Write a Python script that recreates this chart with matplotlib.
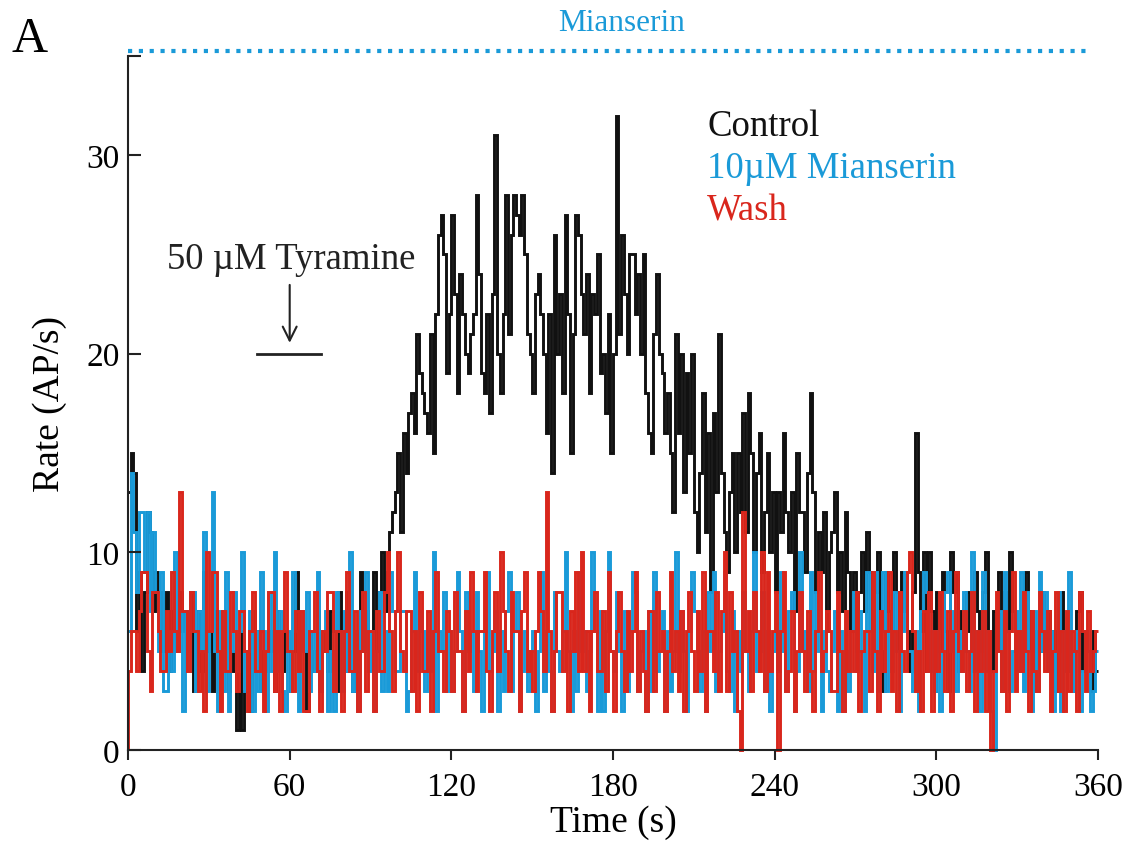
import numpy as np
import matplotlib
matplotlib.use("Agg")
import matplotlib.pyplot as plt

# firing rate, 1 s bins, 0-360 s (AP/s)
control_rate = [
    13, 15, 14, 6, 9, 4, 8, 12, 11, 7,
    9, 6, 8, 5, 8, 4, 7, 5, 6, 8,
    6, 7, 5, 8, 3, 6, 7, 4, 9, 5,
    6, 3, 7, 5, 4, 6, 7, 3, 5, 4,
    1, 6, 1, 3, 5, 2, 7, 4, 6, 3,
    5, 4, 6, 5, 3, 7, 5, 4, 6, 5,
    3, 5, 9, 4, 6, 5, 2, 6, 4, 5,
    7, 3, 5, 6, 4, 7, 6, 3, 8, 6,
    4, 8, 5, 3, 6, 4, 9, 5, 7, 6,
    6, 9, 5, 8, 10, 7, 9, 11, 12, 13,
    15, 11, 16, 14, 17, 18, 16, 21, 19, 18,
    17, 16, 21, 15, 22, 26, 27, 25, 19, 22,
    27, 23, 18, 24, 22, 20, 19, 21, 22, 28,
    24, 19, 18, 22, 17, 23, 31, 20, 18, 22,
    28, 21, 26, 28, 27, 26, 28, 25, 21, 20,
    18, 23, 24, 22, 20, 16, 22, 14, 26, 20,
    23, 18, 27, 22, 15, 21, 27, 26, 23, 21,
    24, 18, 23, 22, 25, 19, 20, 17, 22, 15,
    20, 32, 21, 26, 23, 20, 25, 25, 22, 24,
    20, 25, 18, 16, 15, 21, 24, 20, 19, 16,
    18, 15, 12, 21, 16, 20, 13, 19, 15, 20,
    12, 10, 14, 18, 11, 16, 8, 17, 13, 21,
    14, 11, 9, 13, 15, 10, 15, 12, 17, 11,
    18, 15, 10, 14, 16, 9, 12, 15, 10, 13,
    8, 13, 11, 16, 12, 10, 13, 7, 15, 12,
    12, 9, 14, 18, 13, 8, 11, 9, 12, 6,
    10, 11, 13, 8, 10, 7, 12, 9, 6, 9,
    5, 8, 10, 7, 11, 9, 6, 8, 10, 5,
    3, 9, 7, 6, 10, 8, 5, 9, 7, 6,
    4, 8, 16, 9, 6, 10, 4, 10, 7, 3,
    8, 5, 9, 6, 3, 10, 8, 9, 4, 7,
    5, 8, 6, 4, 9, 7, 5, 8, 10, 6,
    4, 7, 5, 9, 3, 8, 6, 10, 7, 5,
    6, 4, 8, 9, 5, 7, 3, 6, 5, 8,
    5, 7, 4, 6, 3, 5, 8, 6, 4, 6,
    3, 5, 7, 8, 4, 6, 5, 3, 6, 4,
]

mianserin_rate = [
    6, 14, 11, 8, 12, 12, 9, 12, 7, 11,
    8, 5, 9, 3, 3, 6, 4, 10, 5, 7,
    2, 7, 4, 8, 8, 3, 7, 5, 11, 3,
    6, 13, 5, 2, 7, 3, 9, 2, 5, 8,
    4, 6, 10, 3, 5, 7, 2, 6, 3, 9,
    6, 2, 8, 4, 10, 4, 7, 3, 2, 6,
    3, 9, 6, 2, 7, 5, 8, 3, 6, 4,
    9, 3, 6, 7, 2, 5, 2, 8, 6, 3,
    7, 4, 10, 3, 6, 2, 7, 5, 9, 4,
    6, 2, 5, 8, 3, 6, 3, 9, 7, 4,
    4, 7, 7, 2, 3, 6, 9, 4, 7, 6,
    3, 6, 4, 10, 2, 6, 5, 8, 3, 6,
    3, 5, 9, 6, 2, 8, 5, 6, 3, 8,
    5, 2, 6, 9, 4, 5, 7, 2, 6, 3,
    7, 9, 3, 6, 8, 2, 4, 6, 3, 5,
    6, 2, 5, 9, 3, 6, 4, 2, 8, 5,
    4, 6, 10, 5, 2, 6, 3, 9, 5, 6,
    3, 5, 10, 6, 2, 7, 2, 6, 10, 5,
    4, 8, 5, 2, 7, 3, 6, 9, 8, 3,
    5, 6, 2, 7, 3, 9, 4, 5, 7, 2,
    6, 3, 5, 10, 4, 7, 5, 2, 6, 9,
    7, 5, 3, 6, 2, 8, 5, 9, 3, 5,
    6, 9, 4, 3, 7, 2, 6, 4, 8, 5,
    3, 6, 10, 4, 5, 8, 3, 6, 2, 5,
    7, 4, 9, 5, 3, 7, 8, 2, 4, 10,
    5, 6, 3, 9, 4, 8, 5, 2, 6, 4,
    3, 5, 7, 2, 6, 2, 5, 3, 6, 8,
    4, 7, 5, 2, 9, 6, 4, 9, 3, 6,
    9, 3, 6, 4, 8, 5, 2, 6, 9, 5,
    5, 3, 6, 2, 7, 9, 8, 4, 6, 3,
    6, 2, 5, 8, 9, 5, 7, 3, 6, 4,
    8, 5, 3, 10, 4, 6, 2, 9, 4, 6,
    2, 0, 5, 7, 3, 9, 6, 3, 5, 7,
    4, 9, 3, 8, 5, 2, 7, 3, 9, 5,
    8, 4, 6, 2, 5, 8, 2, 6, 4, 9,
    3, 5, 6, 2, 4, 6, 5, 2, 3, 5,
]

wash_rate = [
    4, 6, 6, 4, 7, 9, 9, 5, 3, 8,
    8, 6, 4, 4, 7, 5, 9, 6, 5, 13,
    7, 7, 4, 8, 6, 6, 3, 5, 2, 10,
    6, 9, 9, 5, 2, 7, 4, 4, 8, 6,
    3, 7, 7, 5, 2, 6, 8, 4, 4, 6,
    2, 5, 8, 8, 3, 6, 2, 6, 9, 5,
    5, 3, 7, 4, 7, 2, 2, 6, 6, 8,
    4, 2, 6, 5, 8, 8, 3, 6, 6, 2,
    6, 9, 4, 4, 7, 2, 5, 8, 3, 6,
    6, 2, 7, 4, 4, 8, 10, 6, 3, 7,
    10, 5, 4, 7, 7, 3, 6, 2, 8, 4,
    4, 7, 2, 6, 9, 5, 5, 3, 7, 6,
    3, 8, 5, 5, 2, 7, 4, 9, 6, 3,
    6, 6, 9, 4, 2, 6, 8, 4, 10, 7,
    5, 3, 8, 6, 6, 2, 7, 9, 4, 5,
    3, 6, 9, 7, 4, 13, 6, 2, 5, 8,
    8, 4, 6, 2, 7, 5, 9, 4, 10, 4,
    6, 2, 6, 8, 4, 4, 7, 3, 9, 5,
    2, 6, 8, 5, 3, 7, 4, 6, 9, 3,
    6, 4, 2, 7, 7, 3, 8, 5, 6, 2,
    5, 9, 4, 6, 3, 7, 2, 6, 8, 5,
    3, 7, 4, 9, 2, 6, 6, 4, 8, 3,
    7, 10, 3, 8, 5, 6, 2, 0, 12, 5,
    7, 3, 8, 6, 4, 10, 3, 9, 4, 6,
    8, 0, 6, 9, 3, 4, 7, 2, 5, 8,
    5, 3, 7, 4, 2, 6, 9, 4, 5, 7,
    6, 3, 3, 8, 5, 2, 7, 4, 6, 4,
    8, 2, 5, 6, 6, 3, 9, 5, 2, 7,
    4, 6, 9, 3, 6, 2, 8, 5, 4, 9,
    10, 6, 3, 5, 2, 7, 4, 8, 2, 6,
    4, 8, 5, 3, 7, 2, 6, 9, 5, 4,
    7, 3, 5, 8, 2, 6, 4, 7, 2, 6,
    0, 4, 8, 5, 3, 7, 2, 6, 9, 3,
    6, 4, 8, 5, 2, 7, 4, 3, 8, 6,
    4, 7, 2, 5, 8, 3, 6, 2, 7, 3,
    6, 5, 2, 8, 6, 3, 7, 4, 5, 6,
]

series_names = ["Control", "10\u00b5M Mianserin", "Wash"]
series_colors = ["#111111", "#1a9ad8", "#d9261c"]
xticks = [0, 60, 120, 180, 240, 300, 360]
yticks = [0, 10, 20, 30, 35]
ytick_labels = ["0", "10", "20", "30", ""]

plt.rcParams['font.family'] = ['Liberation Serif', 'DejaVu Serif']

fig = plt.figure(figsize=(11.27, 8.45), dpi=100)
ax = fig.add_axes([0.1136, 0.111, 0.8607, 0.8215])

edges = np.arange(len(control_rate) + 1)
rates = [control_rate, mianserin_rate, wash_rate]
for vals, col in zip(rates, series_colors):
    ax.stairs(vals, edges, baseline=None, color=col, lw=2.1, clip_on=False)
# wash trace starts from zero at t=0
ax.vlines(edges[0], 0, wash_rate[0], color=series_colors[2], lw=2.1)

ax.set_xlim(0, 360)
ax.set_ylim(0, 35)
ax.set_xticks(xticks)
ax.set_yticks(yticks, ytick_labels)
ax.tick_params(axis='x', direction='out', length=7, width=1.5, labelsize=24, pad=8, color='#222222')
ax.tick_params(axis='y', direction='in', length=9, width=1.5, labelsize=24, pad=6, color='#222222')
for s in ['top', 'right']:
    ax.spines[s].set_visible(False)
for s in ['left', 'bottom']:
    ax.spines[s].set_linewidth(1.5)
    ax.spines[s].set_color('#222222')

ax.set_xlabel("Time (s)", fontsize=27, labelpad=2)
ax.set_ylabel("Rate (AP/s)", fontsize=27, labelpad=14)

# legend as coloured text
for i, (name, col) in enumerate(zip(series_names, series_colors)):
    ax.text(215, 31.5 - 2.15 * i, name, color=col, fontsize=26.5, ha='left', va='center')

# tyramine application
ax.text(14.5, 24.8, "50 \u00b5M Tyramine", fontsize=26.5, ha='left', va='center', color='#222222')
ax.annotate("", xy=(60, 20.4), xytext=(60, 23.6),
            arrowprops=dict(arrowstyle='->', lw=1.5, color='#222222', mutation_scale=25))
ax.plot([48, 71.5], [20, 20], color='#222222', lw=2)

# mianserin bar
ax.plot([0, 356], [35.25, 35.25], color=series_colors[1], lw=3,
        linestyle=(0, (1, 1.6)), clip_on=False)
ax.text(183, 36.7, "Mianserin", color=series_colors[1], fontsize=22.5, ha='center', va='center')

fig.text(0.026, 0.953, "A", fontsize=36, ha='center', va='center')

fig.savefig("out.png", dpi=100)
